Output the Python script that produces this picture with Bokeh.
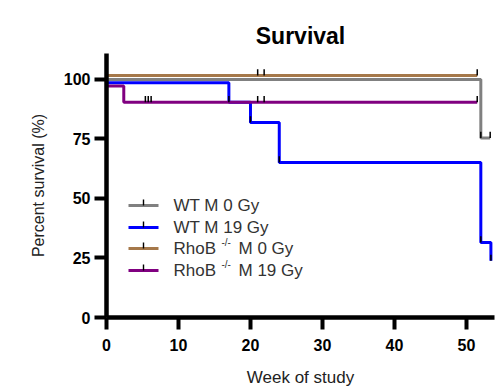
from bokeh.plotting import figure
from bokeh.models import Range1d, Label, BoxAnnotation, FixedTicker
from bokeh.embed import file_html
from bokeh.resources import INLINE

# ---------------- data ----------------
x_ticks = [0, 10, 20, 30, 40, 50]
y_ticks = [0, 25, 50, 75, 100]

names = ["WT M 0 Gy", "WT M 19 Gy", "RhoB -/- M 0 Gy", "RhoB -/- M 19 Gy"]
colors = ["#808080", "#0000FF", "#A5784A", "#800080"]

# WT M 0 Gy
wt0_weeks = [0, 52.0, 53.3]
wt0_surv = [100.0, 75.4, 75.4]
wt0_cens_weeks = [52.0, 53.3]
wt0_cens_surv = [75.4, 75.4]

# WT M 19 Gy
wt19_weeks = [0, 17.0, 20.0, 24.0, 52.0, 53.4]
wt19_surv = [98.6, 90.4, 81.9, 65.1, 31.5, 23.8]
wt19_cens_weeks = [17.0, 20.0, 24.0, 52.0, 53.4]
wt19_cens_surv = [90.4, 81.9, 65.1, 31.5, 23.8]

# RhoB -/- M 0 Gy
rhob0_weeks = [0, 51.5]
rhob0_surv = [101.7, 101.7]
rhob0_cens_weeks = [21.0, 21.9, 51.5]
rhob0_cens_surv = [101.7, 101.7, 101.7]

# RhoB -/- M 19 Gy
rhob19_weeks = [0, 2.4, 51.5]
rhob19_surv = [97.2, 90.4, 90.4]
rhob19_cens_weeks = [5.4, 5.8, 6.2, 21.0, 21.9, 51.5]
rhob19_cens_surv = [90.4, 90.4, 90.4, 90.4, 90.4, 90.4]

TICK_LEN = 2.6  # censor tick height in survival units

FONT = "Liberation Sans"

p = figure(
    frame_width=388, frame_height=264,
    min_border_left=106, min_border_right=1,
    min_border_top=53, min_border_bottom=71,
    x_range=Range1d(0, 53.9), y_range=Range1d(0, 110.9),
    output_backend="svg", toolbar_location=None,
)
p.background_fill_color = "white"
p.border_fill_color = "white"
p.outline_line_color = None
p.xgrid.visible = False
p.ygrid.visible = False

# title
p.title.text = "Survival"
p.title.align = "center"
p.title.text_font = FONT
p.title.text_font_size = "23px"
p.title.text_font_style = "bold"
p.title.text_color = "black"

for ax in (p.xaxis[0], p.yaxis[0]):
    ax.axis_line_width = 4.5
    ax.axis_line_color = "black"
    ax.major_tick_line_width = 4
    ax.major_tick_line_color = "black"
    ax.major_tick_out = 12
    ax.major_tick_in = 0
    ax.minor_tick_line_color = None
    ax.major_label_text_font = FONT
    ax.major_label_text_font_style = "bold"
    ax.major_label_text_font_size = "16px"
    ax.major_label_text_color = "black"
    ax.axis_label_text_font = FONT
    ax.axis_label_text_font_style = "normal"
    ax.axis_label_text_color = "#222222"

p.xaxis.ticker = FixedTicker(ticks=x_ticks)
p.yaxis.ticker = FixedTicker(ticks=y_ticks)
p.xaxis.axis_label = "Week of study"
p.yaxis.axis_label = "Percent survival (%)"
p.xaxis.axis_label_text_font_size = "17px"
p.yaxis.axis_label_text_font_size = "16px"
p.xaxis.major_label_standoff = 9
p.yaxis.major_label_standoff = 4
p.xaxis.axis_label_standoff = 14
p.yaxis.axis_label_standoff = 14

series = [
    (wt0_weeks, wt0_surv, wt0_cens_weeks, wt0_cens_surv),
    (wt19_weeks, wt19_surv, wt19_cens_weeks, wt19_cens_surv),
    (rhob0_weeks, rhob0_surv, rhob0_cens_weeks, rhob0_cens_surv),
    (rhob19_weeks, rhob19_surv, rhob19_cens_weeks, rhob19_cens_surv),
]

for (wx, sy, cx, cy), col in zip(series, colors):
    p.step(wx, sy, mode="after", line_color=col, line_width=3)

for (wx, sy, cx, cy), col in zip(series, colors):
    p.segment(x0=cx, y0=cy, x1=cx, y1=[v + TICK_LEN for v in cy],
              line_color="black", line_width=1.5)

# ---------------- manual legend (canvas pixels) ----------------
leg_x0, leg_x1, leg_text_x = 128, 158, 173
leg_rows = [205, 227, 248, 270]
TXT = "#333333"
for name, col, ry in zip(names, colors, leg_rows):
    p.add_layout(BoxAnnotation(left=leg_x0, right=leg_x1, top=ry - 1.5, bottom=ry + 1.5,
                               left_units="canvas", right_units="canvas",
                               top_units="canvas", bottom_units="canvas",
                               fill_color=col, fill_alpha=1, line_color=None))
    mid = (leg_x0 + leg_x1) / 2
    p.add_layout(BoxAnnotation(left=mid - 0.7, right=mid + 0.7, top=ry - 6, bottom=ry,
                               left_units="canvas", right_units="canvas",
                               top_units="canvas", bottom_units="canvas",
                               fill_color="black", fill_alpha=1, line_color=None))
    if name.startswith("RhoB"):
        rest = name.split("-/-")[1].strip()
        p.add_layout(Label(x=leg_text_x, y=ry, x_units="canvas", y_units="canvas",
                           text="RhoB", text_font=FONT, text_font_size="17px",
                           text_color=TXT, text_baseline="middle"))
        p.add_layout(Label(x=221, y=ry - 6, x_units="canvas", y_units="canvas",
                           text="-/-", text_font=FONT, text_font_size="10px",
                           text_color=TXT, text_baseline="middle"))
        p.add_layout(Label(x=238, y=ry, x_units="canvas", y_units="canvas",
                           text=rest, text_font=FONT, text_font_size="17px",
                           text_color=TXT, text_baseline="middle"))
    else:
        p.add_layout(Label(x=leg_text_x, y=ry, x_units="canvas", y_units="canvas",
                           text=name, text_font=FONT, text_font_size="17px",
                           text_color=TXT, text_baseline="middle"))

# panel letter
p.add_layout(Label(x=11, y=35, x_units="canvas", y_units="canvas", text="D",
                   text_font=FONT, text_font_size="28px", text_font_style="bold",
                   text_color="black", text_baseline="alphabetic"))

open("out.html", "w").write(file_html(p, INLINE))
